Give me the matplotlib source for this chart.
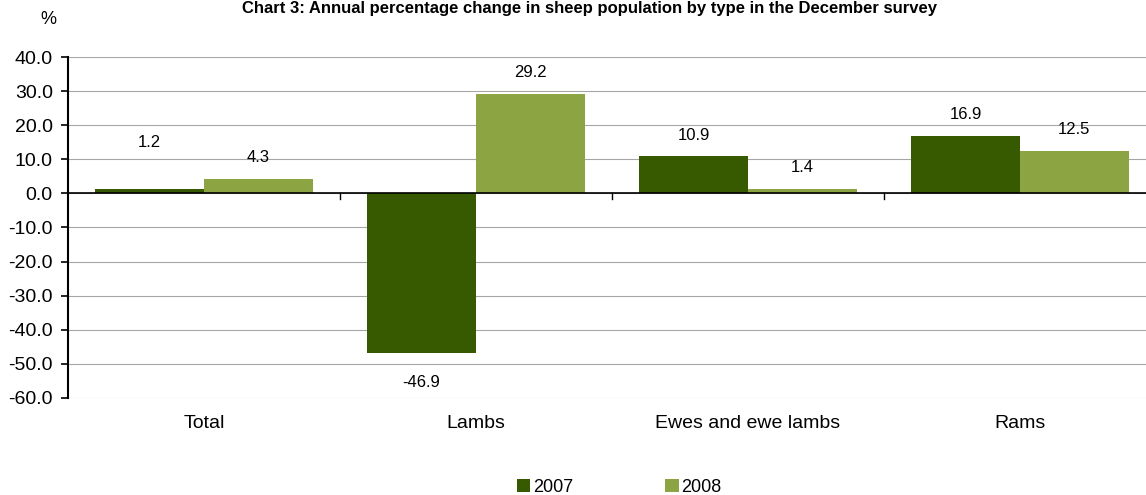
import numpy as np
import matplotlib.pyplot as plt

plt.rcParams['font.family'] = ['Liberation Sans', 'DejaVu Sans']

categories = ['Total', 'Lambs', 'Ewes and ewe lambs', 'Rams']
years = ['2007', '2008']
change_2007 = [1.2, -46.9, 10.9, 16.9]
change_2008 = [4.3, 29.2, 1.4, 12.5]
colors = ['#375a00', '#8ca441']

fig = plt.figure(figsize=(11.46, 4.95), dpi=100)
ax = fig.add_axes([68/1146, 1 - 398/495, 1088/1146, 341/495])

x = np.arange(len(categories))
w = 0.4
b1 = ax.bar(x - w/2, change_2007, w, color=colors[0], label=years[0], zorder=3)
b2 = ax.bar(x + w/2, change_2008, w, color=colors[1], label=years[1], zorder=3)

# data labels (the small Total label sits higher to clear the gridline)
for bars, vals in [(b1, change_2007), (b2, change_2008)]:
    for r, v in zip(bars, vals):
        cx = r.get_x() + r.get_width()/2
        if v >= 0:
            off = 34 if v == 1.2 else 15
        else:
            off = -21
        ax.annotate(f'{v:.1f}', (cx, v), xytext=(0, off), textcoords='offset points',
                    ha='center', va='center', fontsize=12)

ax.set_ylim(-60, 40)
ax.set_xlim(-0.5, 3.5)
ax.set_yticks(np.arange(-60, 41, 10))
ax.set_yticklabels([f'{t:.1f}' for t in np.arange(-60, 41, 10)], fontsize=14)
ax.yaxis.grid(True, color='#a6a6a6', linewidth=0.8, zorder=0)
ax.axhline(0, color='black', linewidth=1.2, zorder=4)

ax.set_xticks([])
for xi, c in zip(x, categories):
    ax.text(xi, -67.5, c, ha='center', va='center', fontsize=14)
for xt in [0.5, 1.5, 2.5]:
    ax.plot([xt, xt], [0, -1.7], color='black', linewidth=1, clip_on=False, zorder=5)

for s in ['top', 'right', 'bottom']:
    ax.spines[s].set_visible(False)
ax.spines['left'].set_linewidth(1.5)
ax.tick_params(axis='y', length=5, width=1.2, pad=6)

fig.text(48/1146, 1 - 20/495, '%', ha='center', va='center', fontsize=13)
fig.text(590/1146, 1 - 1/495, 'Chart 3: Annual percentage change in sheep population by type in the December survey',
         ha='center', va='top', fontsize=12, fontweight='bold')

fig.legend(handles=[b1, b2], labels=years, loc='center', bbox_to_anchor=(619/1146, 1 - 487/495),
           ncol=2, frameon=False, fontsize=13, handlelength=0.75, handleheight=0.75,
           handletextpad=0.15, columnspacing=5.1)

fig.savefig('out.png', dpi=100)
